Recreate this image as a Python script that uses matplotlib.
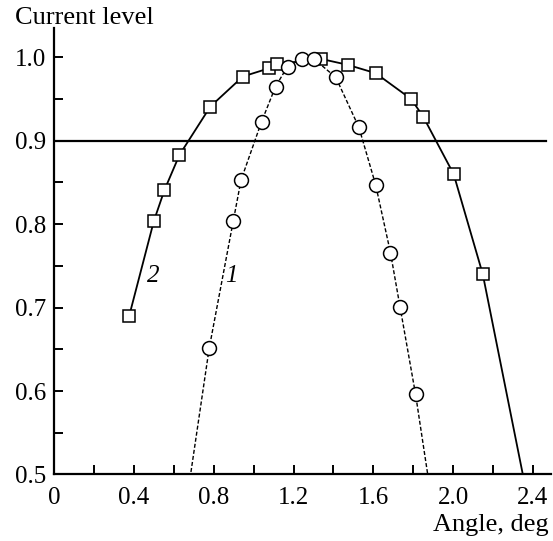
import numpy as np
import matplotlib
matplotlib.use('Agg')
import matplotlib.pyplot as plt
from matplotlib.ticker import MultipleLocator

plt.rcParams['font.family'] = 'Liberation Serif'

# curve 1 (circles, dashed); first and last points lie below the frame
x1 = [0.65, 0.777, 0.898, 0.937, 1.04, 1.11, 1.17, 1.242, 1.303, 1.412,
      1.528, 1.612, 1.686, 1.734, 1.812, 1.911]
y1 = [0.445, 0.651, 0.804, 0.853, 0.923, 0.965, 0.989, 0.998, 0.998, 0.976,
      0.916, 0.847, 0.766, 0.701, 0.596, 0.44]

# curve 2 (squares, solid); last point below the frame
x2 = [0.376, 0.500, 0.553, 0.628, 0.783, 0.946, 1.079, 1.116, 1.34, 1.472,
      1.612, 1.79, 1.85, 2.003, 2.149, 2.40]
y2 = [0.690, 0.804, 0.841, 0.883, 0.941, 0.977, 0.987, 0.992, 0.998, 0.991,
      0.981, 0.950, 0.929, 0.860, 0.740, 0.44]

level = 0.9

fig = plt.figure(figsize=(5.53, 5.41), dpi=100)
ax = fig.add_axes([0.098, 0.123, 0.898, 0.825])

ax.plot(x2, y2, '-', color='k', lw=1.3, marker='s', ms=9.2, mfc='white',
        mec='k', mew=1.1, zorder=3)
ax.plot(x1, y1, color='k', lw=1.0, dashes=(2.9, 1.5), marker='o', ms=10,
        mfc='white', mec='k', mew=1.1, zorder=4)
ax.axhline(level, xmax=0.99, color='k', lw=1.6, zorder=2)

ax.set_xlim(0, 2.49)
ax.set_ylim(0.5, 1.035)
ax.xaxis.set_minor_locator(MultipleLocator(0.2))
ax.yaxis.set_minor_locator(MultipleLocator(0.05))
ax.set_xticks([0, 0.4, 0.8, 1.2, 1.6, 2.0, 2.4])
ax.set_xticklabels(['0', '0.4', '0.8', '1.2', '1.6', '2.0', '2.4'])
ax.set_yticks([0.5, 0.6, 0.7, 0.8, 0.9, 1.0])
ax.set_yticklabels(['0.5', '0.6', '0.7', '0.8', '0.9', '1.0'])

ax.tick_params(which='both', direction='in', length=6.5, width=1.4,
               labelsize=18)
ax.tick_params(axis='x', which='both', pad=9)
ax.tick_params(axis='y', which='both', pad=6)
for s in ['top', 'right']:
    ax.spines[s].set_visible(False)
for s in ['left', 'bottom']:
    ax.spines[s].set_linewidth(1.6)

ax.text(0.463, 0.738, '2', fontsize=18, style='italic', ha='left', va='center')
ax.text(0.856, 0.738, '1', fontsize=18, style='italic', ha='left', va='center')

fig.text(0.028, 0.966, 'Current level', fontsize=19, ha='left', va='center')
fig.text(0.992, 0.03, 'Angle, deg', fontsize=19, ha='right', va='center')

fig.savefig('out.png', dpi=100)
